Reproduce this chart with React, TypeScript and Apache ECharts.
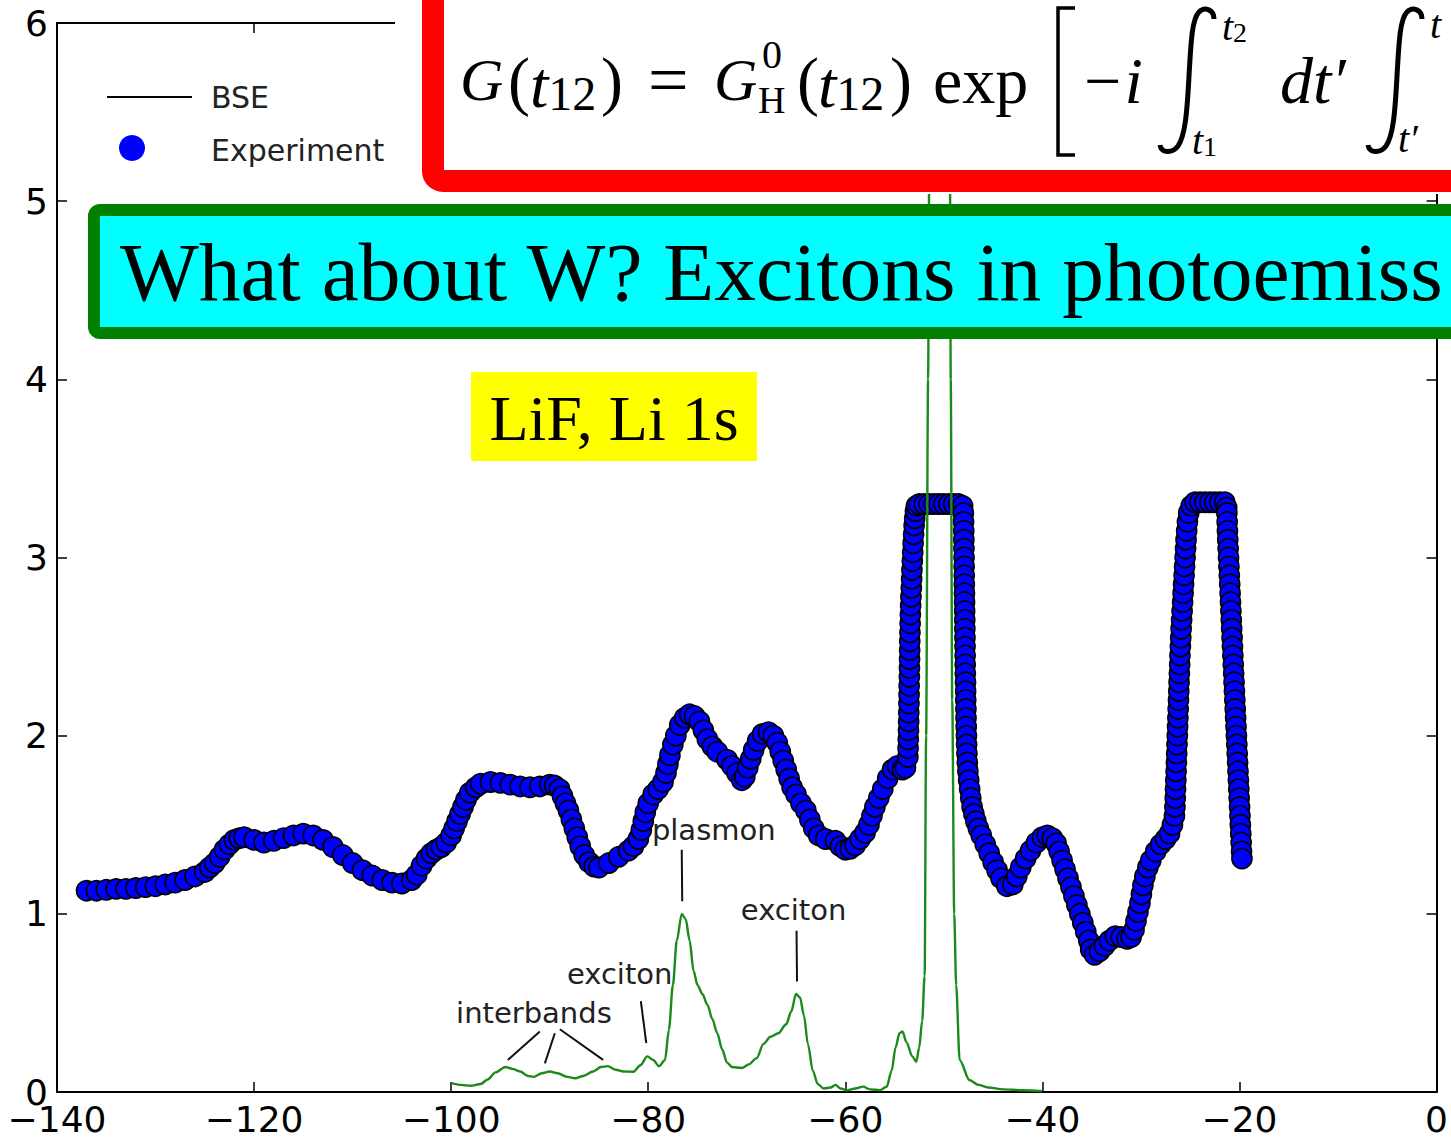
import React, { useEffect, useRef } from 'react';
import * as echarts from 'echarts';

// ---------------- data ----------------
const xTickValues = [-140, -120, -100, -80, -60, -40, -20, 0];
const yTickValues = [0, 1, 2, 3, 4, 5, 6];

// Experiment (blue markers): [energy, intensity]
const experiment: [number, number][] = [
  [-137, 1.13], [-136, 1.13], [-135, 1.135], [-134, 1.14], [-133, 1.14], [-132, 1.145], [-131, 1.15], [-130, 1.155],
  [-129, 1.165], [-128, 1.175], [-127, 1.19], [-126, 1.21], [-125, 1.235],
  [-124.5, 1.26], [-124, 1.285], [-123.5, 1.32], [-123, 1.36], [-122.5, 1.39], [-122, 1.415], [-121.5, 1.425], [-121, 1.43],
  [-120, 1.415], [-119, 1.40], [-118, 1.41], [-117, 1.425], [-116, 1.44], [-115, 1.45], [-114, 1.44], [-113, 1.415],
  [-112, 1.375], [-111, 1.33], [-110, 1.285], [-109, 1.245], [-108, 1.215], [-107, 1.19], [-106, 1.175], [-105, 1.17],
  [-104, 1.19], [-103.5, 1.22], [-103, 1.27], [-102.5, 1.31], [-102, 1.34], [-101.5, 1.36], [-101, 1.375], [-100.5, 1.40],
  [-100, 1.44], [-99.7, 1.48], [-99.4, 1.52], [-99.1, 1.56], [-98.8, 1.60], [-98.5, 1.64], [-98.1, 1.68], [-97.5, 1.71],
  [-97, 1.73], [-96, 1.74], [-95, 1.735], [-94, 1.725], [-93, 1.715], [-92, 1.71], [-91, 1.715], [-90, 1.725],
  [-89.5, 1.72], [-89, 1.70], [-88.7, 1.66], [-88.4, 1.62], [-88.1, 1.58], [-87.8, 1.53], [-87.5, 1.48], [-87.2, 1.43],
  [-86.9, 1.38], [-86.5, 1.33], [-86, 1.29], [-85.5, 1.265], [-85, 1.26], [-84, 1.285], [-83, 1.32], [-82, 1.355],
  [-81.5, 1.38], [-81, 1.42], [-80.7, 1.47], [-80.5, 1.52], [-80.3, 1.57], [-80, 1.62], [-79.5, 1.67], [-79, 1.70],
  [-78.5, 1.74], [-78.2, 1.79], [-78, 1.84], [-77.8, 1.89], [-77.5, 1.95], [-77.2, 2.0], [-76.8, 2.06], [-76.3, 2.10],
  [-75.8, 2.12], [-75.3, 2.11], [-74.8, 2.08], [-74.4, 2.03], [-74, 1.98], [-73.5, 1.94], [-73, 1.91], [-72, 1.865],
  [-71.5, 1.83], [-71, 1.79], [-70.5, 1.75], [-70.2, 1.77], [-69.9, 1.82], [-69.6, 1.87], [-69.3, 1.92], [-68.9, 1.97],
  [-68.4, 2.01], [-67.8, 2.02], [-67.3, 2.0], [-66.9, 1.96], [-66.6, 1.91], [-66.3, 1.86], [-66, 1.81], [-65.7, 1.76],
  [-65.4, 1.71], [-65, 1.67], [-64.5, 1.62], [-64, 1.58], [-63.6, 1.53], [-63.2, 1.48], [-62.7, 1.44], [-62, 1.42],
  [-61, 1.41], [-60.5, 1.38], [-60, 1.36], [-59.5, 1.365], [-59, 1.385], [-58.5, 1.42], [-58, 1.455], [-57.6, 1.50],
  [-57.3, 1.55], [-57, 1.60], [-56.6, 1.65], [-56.2, 1.70], [-55.7, 1.76], [-55.2, 1.81], [-54.7, 1.83], [-54.2, 1.81],
  [-53.9, 1.82],
  [-53.65, 1.88], [-53.63, 1.93], [-53.61, 1.98], [-53.59, 2.03], [-53.57, 2.08], [-53.56, 2.13], [-53.54, 2.18],
  [-53.53, 2.23], [-53.52, 2.28], [-53.5, 2.33], [-53.49, 2.38], [-53.48, 2.43], [-53.47, 2.48], [-53.46, 2.53],
  [-53.44, 2.58], [-53.42, 2.63], [-53.4, 2.68], [-53.37, 2.73], [-53.34, 2.78], [-53.3, 2.83], [-53.27, 2.88],
  [-53.24, 2.93], [-53.2, 2.98], [-53.16, 3.03], [-53.12, 3.08], [-53.07, 3.13], [-53.02, 3.18], [-52.96, 3.22],
  [-52.88, 3.26], [-52.78, 3.29],
  [-52.5, 3.30], [-52, 3.30], [-51.5, 3.30], [-51, 3.30], [-50.5, 3.30], [-50, 3.30], [-49.5, 3.30], [-49, 3.30],
  [-48.5, 3.30], [-48.1, 3.29],
  [-48.02, 3.25], [-48, 3.2], [-47.98, 3.15], [-47.97, 3.1], [-47.96, 3.05], [-47.95, 3.0], [-47.94, 2.95], [-47.93, 2.9],
  [-47.92, 2.85], [-47.91, 2.8], [-47.9, 2.75], [-47.89, 2.7], [-47.88, 2.65], [-47.87, 2.6], [-47.86, 2.55],
  [-47.85, 2.5], [-47.84, 2.45], [-47.83, 2.4], [-47.82, 2.35], [-47.8, 2.3], [-47.79, 2.25], [-47.78, 2.2],
  [-47.76, 2.15], [-47.75, 2.1], [-47.73, 2.05], [-47.71, 2.0], [-47.69, 1.95], [-47.66, 1.9], [-47.62, 1.85],
  [-47.56, 1.80], [-47.48, 1.75], [-47.38, 1.70], [-47.27, 1.65], [-47.13, 1.60], [-46.95, 1.56], [-46.75, 1.52],
  [-46.5, 1.48], [-46.2, 1.44], [-45.8, 1.39], [-45.4, 1.34], [-45, 1.29], [-44.6, 1.245], [-44.2, 1.20],
  [-43.6, 1.155], [-43, 1.165], [-42.6, 1.21], [-42.2, 1.26], [-41.7, 1.31], [-41.2, 1.355], [-40.6, 1.40],
  [-40, 1.43], [-39.5, 1.44], [-39, 1.425], [-38.6, 1.395], [-38.3, 1.35], [-38, 1.30], [-37.7, 1.25], [-37.4, 1.20],
  [-37.1, 1.15], [-36.8, 1.10], [-36.5, 1.05], [-36.2, 1.0], [-35.9, 0.95], [-35.6, 0.90], [-35.3, 0.85], [-35.1, 0.80],
  [-34.7, 0.77], [-34.2, 0.79], [-33.7, 0.82], [-33.2, 0.85], [-32.6, 0.875], [-32, 0.87], [-31.4, 0.86], [-31, 0.87],
  [-30.7, 0.91], [-30.5, 0.96], [-30.3, 1.01], [-30.1, 1.06], [-29.95, 1.11], [-29.8, 1.16], [-29.6, 1.21],
  [-29.3, 1.26], [-29, 1.30], [-28.5, 1.35], [-28, 1.39], [-27.5, 1.42], [-27.1, 1.45], [-26.8, 1.50], [-26.6, 1.55],
  [-26.55, 1.60], [-26.52, 1.65], [-26.49, 1.70], [-26.46, 1.75], [-26.43, 1.80], [-26.4, 1.85], [-26.37, 1.90],
  [-26.34, 1.95], [-26.31, 2.0], [-26.28, 2.05], [-26.25, 2.1], [-26.22, 2.15], [-26.19, 2.2], [-26.16, 2.25],
  [-26.13, 2.3], [-26.1, 2.35], [-26.07, 2.4], [-26.04, 2.45], [-26.0, 2.5], [-25.96, 2.55], [-25.92, 2.6],
  [-25.87, 2.65], [-25.82, 2.7], [-25.77, 2.75], [-25.72, 2.8], [-25.67, 2.85], [-25.62, 2.9], [-25.57, 2.95],
  [-25.52, 3.0], [-25.47, 3.05], [-25.42, 3.1], [-25.36, 3.15], [-25.28, 3.2], [-25.15, 3.25], [-24.9, 3.29],
  [-24.5, 3.31], [-24, 3.31], [-23.5, 3.31], [-23, 3.31], [-22.5, 3.31], [-22, 3.31], [-21.5, 3.31], [-21.3, 3.28],
  [-21.28, 3.25], [-21.25, 3.2], [-21.22, 3.15], [-21.19, 3.1], [-21.15, 3.05], [-21.11, 3.0], [-21.07, 2.95],
  [-21.03, 2.9], [-20.99, 2.85], [-20.95, 2.8], [-20.91, 2.75], [-20.87, 2.7], [-20.83, 2.65], [-20.79, 2.6],
  [-20.75, 2.55], [-20.71, 2.5], [-20.67, 2.45], [-20.63, 2.4], [-20.59, 2.35], [-20.55, 2.3], [-20.51, 2.25],
  [-20.47, 2.2], [-20.43, 2.15], [-20.39, 2.1], [-20.35, 2.05], [-20.31, 2.0], [-20.27, 1.95], [-20.23, 1.9],
  [-20.19, 1.85], [-20.15, 1.8], [-20.11, 1.75], [-20.07, 1.7], [-20.03, 1.65], [-19.99, 1.6], [-19.95, 1.55],
  [-19.91, 1.5], [-19.87, 1.45], [-19.83, 1.4], [-19.79, 1.35], [-19.75, 1.31],
];

// BSE (green line): [energy, intensity]
const bse: [number, number][] = [
  [-100, 0.05], [-99, 0.04], [-98, 0.035], [-97, 0.045], [-96.3, 0.07], [-95.5, 0.11], [-94.5, 0.14], [-93.8, 0.13],
  [-93, 0.115], [-92.2, 0.09], [-91.6, 0.085], [-90.8, 0.105], [-90, 0.115], [-89.2, 0.105], [-88.2, 0.085],
  [-87.4, 0.077], [-86.6, 0.09], [-85.6, 0.115], [-84.8, 0.14], [-84.1, 0.145], [-83.3, 0.125], [-82.5, 0.115],
  [-81.5, 0.114], [-80.8, 0.15], [-80.1, 0.2], [-79.5, 0.18], [-78.9, 0.145], [-78.3, 0.18], [-77.9, 0.35],
  [-77.5, 0.6], [-77.1, 0.85], [-76.6, 1.0], [-76.2, 0.97], [-75.8, 0.85], [-75.4, 0.68], [-75, 0.6], [-74.5, 0.55],
  [-74, 0.49], [-73.5, 0.41], [-73, 0.33], [-72.5, 0.24], [-72, 0.165], [-71.5, 0.14], [-70.5, 0.135], [-69.8, 0.155],
  [-69, 0.19], [-68.3, 0.27], [-67.6, 0.31], [-66.8, 0.33], [-66, 0.38], [-65.5, 0.45], [-65, 0.55], [-64.6, 0.53],
  [-64.2, 0.43], [-63.8, 0.27], [-63.3, 0.12], [-62.8, 0.045], [-62.2, 0.02], [-61.5, 0.025], [-61, 0.04],
  [-60.5, 0.02], [-59.8, 0.01], [-59, 0.02], [-58.2, 0.03], [-57.5, 0.015], [-56.5, 0.01], [-55.8, 0.03],
  [-55.3, 0.12], [-54.9, 0.25], [-54.5, 0.33], [-54.2, 0.34], [-53.8, 0.28], [-53.2, 0.2], [-52.8, 0.17],
  [-52.5, 0.25], [-52.2, 0.4], [-51.95, 0.65], [-51.8, 2.0], [-51.6, 4.0], [-51.45, 5.5], [-51.3, 6.8], [-50.5, 7.5],
  [-49.6, 6.8], [-49.4, 5.5], [-49.3, 4.0], [-49.15, 2.2], [-48.95, 1.0], [-48.75, 0.6], [-48.4, 0.18],
  [-47.4, 0.067], [-46.5, 0.04], [-45.5, 0.025], [-44, 0.015], [-42, 0.01], [-40, 0.005],
];

// annotations in data coordinates
const annotationLabels = [
  { text: 'plasmon', at: [-73.35, 1.47] },
  { text: 'exciton', at: [-65.25, 1.02] },
  { text: 'exciton', at: [-82.9, 0.66] },
  { text: 'interbands', at: [-91.6, 0.443] },
];
const annotationLines = [
  [[-76.6, 1.36], [-76.55, 1.07]],
  [[-64.95, 0.905], [-64.9, 0.62]],
  [[-80.75, 0.51], [-80.2, 0.275]],
  [[-94.25, 0.18], [-91.0, 0.34]],
  [[-90.49, 0.161], [-89.48, 0.33]],
  [[-84.58, 0.18], [-88.97, 0.352]],
];

const legendItems = ['BSE', 'Experiment'];
const title = 'What about W? Excitons in photoemiss';
const sampleLabel = 'LiF, Li 1s';

// ---------------- styles ----------------
const SANS = '"DejaVu Sans", sans-serif';
const SERIF = '"Liberation Serif", "DejaVu Serif", serif';

// thin integral sign (local coords, ~55 x 147)
echarts.graphic.registerShape(
  'integral',
  echarts.graphic.extendPath('M 56 13 C 56 4 47 0 41 6 C 34 13 33 35 31 70 C 29 108 27 130 20 140 C 14 148 3 147 2 139', {})
);

function txt(text: string, x: number, y: number, size: number, opts: any = {}) {
  return {
    type: 'text',
    x,
    y,
    z: opts.z ?? 110,
    style: {
      text,
      fill: opts.fill ?? '#000',
      fontSize: size,
      fontFamily: opts.family ?? SERIF,
      fontStyle: opts.italic ? 'italic' : 'normal',
      fontWeight: 'normal',
      textAlign: opts.align ?? 'left',
      align: opts.align ?? 'left',
      textVerticalAlign: 'middle',
      verticalAlign: 'middle',
    },
  };
}

// italic letter with a small upright index as one rich text
function indexed(letter: string, index: string, x: number, y: number, size: number, idxSize: number, drop: number) {
  return {
    type: 'text',
    x,
    y,
    z: 110,
    style: {
      text: `{a|${letter}}{b|${index}}`,
      fill: '#000',
      textAlign: 'left',
      align: 'left',
      textVerticalAlign: 'middle',
      verticalAlign: 'middle',
      rich: {
        a: { fontSize: size, fontFamily: SERIF, fontStyle: 'italic', lineHeight: size, fill: '#000' },
        b: { fontSize: idxSize, fontFamily: SERIF, lineHeight: size - drop * 2, verticalAlign: 'bottom', fill: '#000' },
      },
    },
  };
}

function fmtX(v: number) {
  return v < 0 ? '\u2212' + Math.abs(v) : String(v);
}

const axisLineStyle = { color: '#000', width: 2 };
const tickStyle = { color: '#000', width: 1.5 };

const option: any = {
  animation: false,
  backgroundColor: '#ffffff',
  grid: { left: 57, right: 14, top: 23, bottom: 46, containLabel: false },
  xAxis: [
    {
      type: 'value', min: xTickValues[0], max: xTickValues[xTickValues.length - 1], interval: 20, position: 'bottom',
      axisLine: { show: true, onZero: false, lineStyle: axisLineStyle },
      axisTick: { show: true, inside: true, length: 10, lineStyle: tickStyle },
      axisLabel: { show: true, fontFamily: SANS, fontSize: 36, lineHeight: 26, color: '#000', margin: 14, formatter: fmtX },
      splitLine: { show: false },
    },
    {
      type: 'value', min: xTickValues[0], max: xTickValues[xTickValues.length - 1], interval: 20, position: 'top',
      axisLine: { show: true, onZero: false, lineStyle: axisLineStyle },
      axisTick: { show: true, inside: true, length: 10, lineStyle: tickStyle },
      axisLabel: { show: false },
      splitLine: { show: false },
    },
  ],
  yAxis: [
    {
      type: 'value', min: yTickValues[0], max: yTickValues[yTickValues.length - 1], interval: 1, position: 'left',
      axisLine: { show: true, onZero: false, lineStyle: axisLineStyle },
      axisTick: { show: true, inside: true, length: 10, lineStyle: tickStyle },
      axisLabel: { show: true, fontFamily: SANS, fontSize: 36, lineHeight: 22, color: '#000', margin: 9 },
      splitLine: { show: false },
    },
    {
      type: 'value', min: yTickValues[0], max: yTickValues[yTickValues.length - 1], interval: 1, position: 'right',
      axisLine: { show: true, onZero: false, lineStyle: axisLineStyle },
      axisTick: { show: true, inside: true, length: 10, lineStyle: tickStyle },
      axisLabel: { show: false },
      splitLine: { show: false },
    },
  ],
  series: [
    {
      name: legendItems[1],
      type: 'scatter',
      data: experiment,
      symbol: 'circle',
      symbolSize: 20,
      itemStyle: { color: '#0000ff', borderColor: '#000', borderWidth: 1.7, opacity: 1 },
      z: 2,
      clip: true,
    },
    {
      name: legendItems[0],
      type: 'line',
      data: bse,
      showSymbol: false,
      smooth: 0.3,
      smoothMonotone: 'x',
      lineStyle: { color: '#1a8a1a', width: 2.4 },
      z: 3,
      clip: true,
    },
  ],
};

export default function App() {
  const ref = useRef<HTMLDivElement>(null);
  useEffect(() => {
    const el = ref.current;
    if (!el) return;
    const chart = echarts.init(el, null, { renderer: 'svg' });
    chart.setOption(option);
    const px = (p: number[]) => chart.convertToPixel({ xAxisIndex: 0, yAxisIndex: 0 }, p) as number[];

    const g: any[] = [];
    // annotations
    annotationLabels.forEach((a) => {
      const [x, y] = px(a.at);
      g.push(txt(a.text, x, y, 29, { family: SANS, fill: '#222', align: 'center', z: 50 }));
    });
    annotationLines.forEach((l) => {
      const [x1, y1] = px(l[0]);
      const [x2, y2] = px(l[1]);
      g.push({ type: 'line', z: 50, shape: { x1, y1, x2, y2 }, style: { stroke: '#111', lineWidth: 2 } });
    });
    // legend
    g.push({ type: 'line', z: 50, shape: { x1: 107, y1: 97, x2: 192, y2: 97 }, style: { stroke: '#000', lineWidth: 2.2 } });
    g.push(txt(legendItems[0], 211, 97, 30, { family: SANS, fill: '#222', z: 50 }));
    g.push({ type: 'circle', z: 50, shape: { cx: 132, cy: 148, r: 13 }, style: { fill: '#0000ff' } });
    g.push(txt(legendItems[1], 211, 150, 30, { family: SANS, fill: '#222', z: 50 }));

    // formula box
    g.push({ type: 'rect', z: 100, shape: { x: 395, y: 0, width: 1100, height: 194 }, style: { fill: '#fff' } });
    g.push({ type: 'rect', z: 101, shape: { x: 433, y: -60, width: 1100, height: 241, r: 10 }, style: { fill: '#fff', stroke: '#ff0000', lineWidth: 22 } });
    const fy = 80;
    g.push(txt('G', 460, fy, 60, { italic: true }));
    g.push(txt('(', 508, fy, 66));
    g.push(indexed('t', '12', 530, fy + 4, 66, 48, 10));
    g.push(txt(')', 601, fy, 66));
    g.push(txt('=', 648, fy, 72));
    g.push(txt('G', 714, fy, 60, { italic: true }));
    g.push(txt('0', 762, 54, 40));
    g.push(txt('H', 758, 100, 38));
    g.push(txt('(', 797, fy, 66));
    g.push(indexed('t', '12', 818, fy + 4, 66, 48, 10));
    g.push(txt(')', 890, fy, 66));
    g.push(txt('exp', 933, fy, 66));
    g.push({ type: 'polyline', z: 110, shape: { points: [[1075, 8], [1058, 8], [1058, 155], [1075, 155]] }, style: { stroke: '#000', lineWidth: 3.5, fill: 'none' } });
    g.push(txt('\u2212i', 1080, fy, 66, { italic: true }));
    g.push({ type: 'integral', z: 110, x: 1158, y: 6, style: { stroke: '#000', lineWidth: 5, fill: 'none' } });
    g.push(indexed('t', '2', 1222, 26, 40, 28, 6));
    g.push(indexed('t', '1', 1192, 140, 40, 28, 6));
    g.push(txt('dt\u2032', 1280, fy, 66, { italic: true }));
    g.push({ type: 'integral', z: 110, x: 1366, y: 6, style: { stroke: '#000', lineWidth: 5, fill: 'none' } });
    g.push(txt('t\u2032', 1398, 138, 40, { italic: true }));
    g.push(txt('t', 1430, 24, 40, { italic: true }));

    // title box
    g.push({ type: 'rect', z: 100, shape: { x: 94, y: 210, width: 1400, height: 123, r: 6 }, style: { fill: '#00ffff', stroke: '#008000', lineWidth: 12 } });
    g.push(txt(title, 120, 272, 83.5, { z: 105 }));

    // sample label
    g.push({ type: 'rect', z: 100, shape: { x: 471, y: 372, width: 286, height: 89 }, style: { fill: '#ffff00' } });
    g.push(txt(sampleLabel, 614, 418, 64, { align: 'center', z: 105 }));

    chart.setOption({ graphic: { elements: g } });
    return () => chart.dispose();
  }, []);
  return (
    <div
      ref={ref}
      style={{ position: 'absolute', left: 0, top: 0, width: 1451, height: 1138, background: '#fff', overflow: 'hidden' }}
    />
  );
}
